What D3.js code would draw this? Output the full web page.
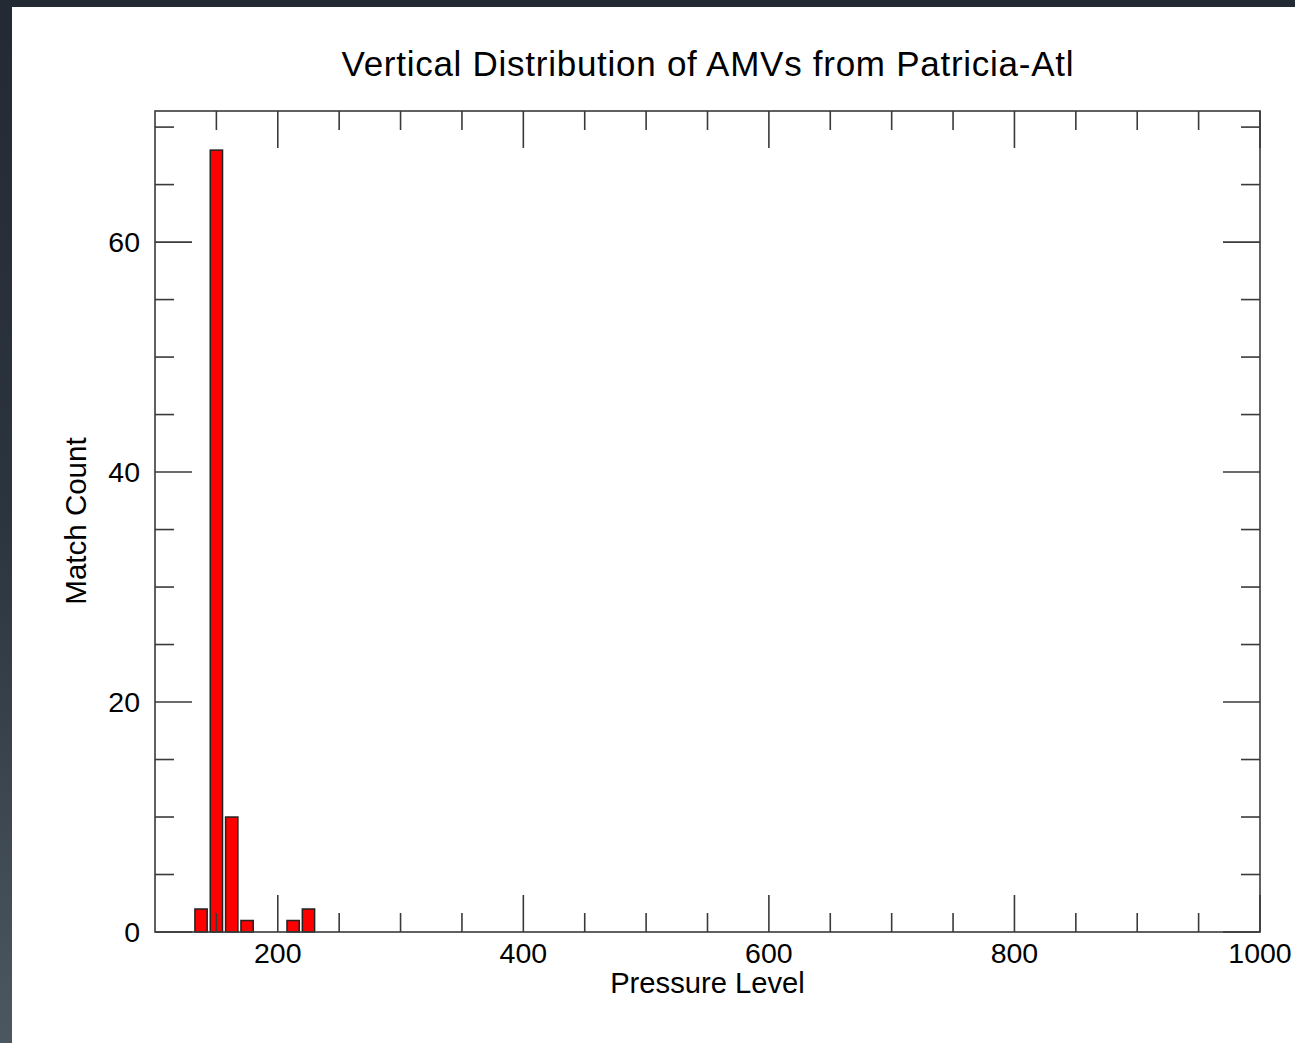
<!DOCTYPE html>
<html>
<head>
<meta charset="utf-8">
<script src="https://cdn.jsdelivr.net/npm/d3@7"></script>
<style>
html,body{margin:0;padding:0;}
body{width:1295px;height:1043px;overflow:hidden;background:linear-gradient(to bottom,#232a33 0%,#2c343e 50%,#4c5761 100%);}
svg{position:absolute;left:12px;top:7px;background:#fff;}
text{font-family:"Liberation Sans",Arial,Helvetica,sans-serif;fill:#000;}
</style>
</head>
<body>
<svg id="chart" width="1283" height="1036"></svg>
<script>
// Data (bin centres in hPa, counts)
const pressureBins = [137.5, 150, 162.5, 175, 212.5, 225];
const matchCounts = [2, 68, 10, 1, 1, 2];
const binWidth = 12.5;
const xMajorTicks = [200, 400, 600, 800, 1000];
const yMajorTicks = [0, 20, 40, 60];
const titleText = "Vertical Distribution of AMVs from Patricia-Atl";
const xLabel = "Pressure Level";
const yLabel = "Match Count";

const ox = 12, oy = 7; // svg offset in page
const L = 155 - ox, R = 1260 - ox, T = 111 - oy, B = 932 - oy;

const svg = d3.select("#chart");
const x = d3.scaleLinear().domain([100, 1000]).range([L, R]);
const y = d3.scaleLinear().domain([0, 71.4]).range([B, T]);

// bars
const bw = (x(binWidth) - x(0)) * 0.8;
svg.append("g").selectAll("rect").data(pressureBins).join("rect")
  .attr("x", d => x(d) - bw / 2)
  .attr("y", (d, i) => y(matchCounts[i]))
  .attr("width", bw)
  .attr("height", (d, i) => y(0) - y(matchCounts[i]))
  .attr("fill", "#ff0000")
  .attr("stroke", "#222")
  .attr("stroke-width", 1.5);

const axisColor = "#3a3a3a";
const g = svg.append("g").attr("stroke", axisColor).attr("stroke-width", 1.6);

// frame
g.append("rect").attr("x", L).attr("y", T).attr("width", R - L).attr("height", B - T).attr("fill", "none");

// x ticks (major + minor), bottom and top
const majorLen = 37, minorLen = 19;
const xMinor = d3.range(150, 1000, 50).filter(v => v % 200 !== 0);
xMajorTicks.forEach(v => {
  g.append("line").attr("x1", x(v)).attr("x2", x(v)).attr("y1", B).attr("y2", B - majorLen);
  g.append("line").attr("x1", x(v)).attr("x2", x(v)).attr("y1", T).attr("y2", T + majorLen);
});
xMinor.forEach(v => {
  g.append("line").attr("x1", x(v)).attr("x2", x(v)).attr("y1", B).attr("y2", B - minorLen);
  g.append("line").attr("x1", x(v)).attr("x2", x(v)).attr("y1", T).attr("y2", T + minorLen);
});

// y ticks
const yMinor = d3.range(5, 71, 5).filter(v => v % 20 !== 0);
yMajorTicks.forEach(v => {
  g.append("line").attr("x1", L).attr("x2", L + majorLen).attr("y1", y(v)).attr("y2", y(v));
  g.append("line").attr("x1", R).attr("x2", R - majorLen).attr("y1", y(v)).attr("y2", y(v));
});
yMinor.forEach(v => {
  g.append("line").attr("x1", L).attr("x2", L + minorLen).attr("y1", y(v)).attr("y2", y(v));
  g.append("line").attr("x1", R).attr("x2", R - minorLen).attr("y1", y(v)).attr("y2", y(v));
});

// tick labels
svg.append("g").selectAll("text").data(xMajorTicks).join("text")
  .attr("x", d => x(d)).attr("y", B + 31)
  .attr("text-anchor", "middle").attr("font-size", 28.5).text(d => d);
svg.append("g").selectAll("text").data(yMajorTicks).join("text")
  .attr("x", L - 15).attr("y", d => y(d) + 10)
  .attr("text-anchor", "end").attr("font-size", 28.5).text(d => d);

// title and labels
svg.append("text").attr("x", (L + R) / 2).attr("y", 76 - oy)
  .attr("text-anchor", "middle").attr("font-size", 35)
  .attr("textLength", 732).text(titleText);
svg.append("text").attr("x", (L + R) / 2).attr("y", 993 - oy)
  .attr("text-anchor", "middle").attr("font-size", 29.2).text(xLabel);
svg.append("text").attr("transform", `translate(${86 - ox},${521 - oy}) rotate(-90)`)
  .attr("text-anchor", "middle").attr("font-size", 29.5).text(yLabel);
</script>
</body>
</html>
